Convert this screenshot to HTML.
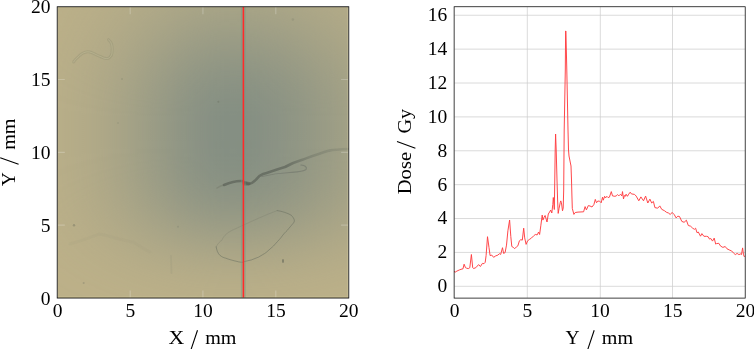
<!DOCTYPE html>
<html><head><meta charset="utf-8"><title>Film and dose profile</title>
<style>
html,body{margin:0;padding:0;background:#fff;width:754px;height:349px;overflow:hidden;}
svg{position:absolute;left:0;top:0;display:block;}
text{font-family:"Liberation Serif",serif;fill:#000;}
</style></head>
<body>
<svg width="754" height="349" viewBox="0 0 754 349">
<defs>
<linearGradient id="lgx" gradientUnits="userSpaceOnUse" x1="57.3" y1="0" x2="348.6" y2="0">
<stop offset="0.000" stop-color="#fff" stop-opacity="0.092"/>
<stop offset="0.025" stop-color="#fff" stop-opacity="0.112"/>
<stop offset="0.050" stop-color="#fff" stop-opacity="0.135"/>
<stop offset="0.075" stop-color="#fff" stop-opacity="0.161"/>
<stop offset="0.100" stop-color="#fff" stop-opacity="0.191"/>
<stop offset="0.125" stop-color="#fff" stop-opacity="0.224"/>
<stop offset="0.150" stop-color="#fff" stop-opacity="0.262"/>
<stop offset="0.175" stop-color="#fff" stop-opacity="0.302"/>
<stop offset="0.200" stop-color="#fff" stop-opacity="0.347"/>
<stop offset="0.225" stop-color="#fff" stop-opacity="0.394"/>
<stop offset="0.250" stop-color="#fff" stop-opacity="0.444"/>
<stop offset="0.275" stop-color="#fff" stop-opacity="0.497"/>
<stop offset="0.300" stop-color="#fff" stop-opacity="0.551"/>
<stop offset="0.325" stop-color="#fff" stop-opacity="0.606"/>
<stop offset="0.350" stop-color="#fff" stop-opacity="0.661"/>
<stop offset="0.375" stop-color="#fff" stop-opacity="0.715"/>
<stop offset="0.400" stop-color="#fff" stop-opacity="0.768"/>
<stop offset="0.425" stop-color="#fff" stop-opacity="0.817"/>
<stop offset="0.450" stop-color="#fff" stop-opacity="0.862"/>
<stop offset="0.475" stop-color="#fff" stop-opacity="0.902"/>
<stop offset="0.500" stop-color="#fff" stop-opacity="0.936"/>
<stop offset="0.525" stop-color="#fff" stop-opacity="0.964"/>
<stop offset="0.550" stop-color="#fff" stop-opacity="0.984"/>
<stop offset="0.575" stop-color="#fff" stop-opacity="0.996"/>
<stop offset="0.600" stop-color="#fff" stop-opacity="1.000"/>
<stop offset="0.625" stop-color="#fff" stop-opacity="0.997"/>
<stop offset="0.650" stop-color="#fff" stop-opacity="0.989"/>
<stop offset="0.675" stop-color="#fff" stop-opacity="0.975"/>
<stop offset="0.700" stop-color="#fff" stop-opacity="0.957"/>
<stop offset="0.725" stop-color="#fff" stop-opacity="0.933"/>
<stop offset="0.750" stop-color="#fff" stop-opacity="0.905"/>
<stop offset="0.775" stop-color="#fff" stop-opacity="0.873"/>
<stop offset="0.800" stop-color="#fff" stop-opacity="0.838"/>
<stop offset="0.825" stop-color="#fff" stop-opacity="0.799"/>
<stop offset="0.850" stop-color="#fff" stop-opacity="0.758"/>
<stop offset="0.875" stop-color="#fff" stop-opacity="0.716"/>
<stop offset="0.900" stop-color="#fff" stop-opacity="0.671"/>
<stop offset="0.925" stop-color="#fff" stop-opacity="0.627"/>
<stop offset="0.950" stop-color="#fff" stop-opacity="0.582"/>
<stop offset="0.975" stop-color="#fff" stop-opacity="0.537"/>
<stop offset="1.000" stop-color="#fff" stop-opacity="0.493"/>
</linearGradient>
<linearGradient id="lgy" gradientUnits="userSpaceOnUse" x1="0" y1="6.7" x2="0" y2="298.0">
<stop offset="0.000" stop-color="#fff" stop-opacity="0.397"/>
<stop offset="0.025" stop-color="#fff" stop-opacity="0.443"/>
<stop offset="0.050" stop-color="#fff" stop-opacity="0.491"/>
<stop offset="0.075" stop-color="#fff" stop-opacity="0.541"/>
<stop offset="0.100" stop-color="#fff" stop-opacity="0.591"/>
<stop offset="0.125" stop-color="#fff" stop-opacity="0.642"/>
<stop offset="0.150" stop-color="#fff" stop-opacity="0.692"/>
<stop offset="0.175" stop-color="#fff" stop-opacity="0.741"/>
<stop offset="0.200" stop-color="#fff" stop-opacity="0.788"/>
<stop offset="0.225" stop-color="#fff" stop-opacity="0.832"/>
<stop offset="0.250" stop-color="#fff" stop-opacity="0.872"/>
<stop offset="0.275" stop-color="#fff" stop-opacity="0.908"/>
<stop offset="0.300" stop-color="#fff" stop-opacity="0.939"/>
<stop offset="0.325" stop-color="#fff" stop-opacity="0.964"/>
<stop offset="0.350" stop-color="#fff" stop-opacity="0.983"/>
<stop offset="0.375" stop-color="#fff" stop-opacity="0.995"/>
<stop offset="0.400" stop-color="#fff" stop-opacity="1.000"/>
<stop offset="0.425" stop-color="#fff" stop-opacity="1.000"/>
<stop offset="0.450" stop-color="#fff" stop-opacity="0.999"/>
<stop offset="0.475" stop-color="#fff" stop-opacity="0.997"/>
<stop offset="0.500" stop-color="#fff" stop-opacity="0.992"/>
<stop offset="0.525" stop-color="#fff" stop-opacity="0.983"/>
<stop offset="0.550" stop-color="#fff" stop-opacity="0.969"/>
<stop offset="0.575" stop-color="#fff" stop-opacity="0.948"/>
<stop offset="0.600" stop-color="#fff" stop-opacity="0.921"/>
<stop offset="0.625" stop-color="#fff" stop-opacity="0.886"/>
<stop offset="0.650" stop-color="#fff" stop-opacity="0.844"/>
<stop offset="0.675" stop-color="#fff" stop-opacity="0.793"/>
<stop offset="0.700" stop-color="#fff" stop-opacity="0.735"/>
<stop offset="0.725" stop-color="#fff" stop-opacity="0.671"/>
<stop offset="0.750" stop-color="#fff" stop-opacity="0.602"/>
<stop offset="0.775" stop-color="#fff" stop-opacity="0.530"/>
<stop offset="0.800" stop-color="#fff" stop-opacity="0.458"/>
<stop offset="0.825" stop-color="#fff" stop-opacity="0.387"/>
<stop offset="0.850" stop-color="#fff" stop-opacity="0.319"/>
<stop offset="0.875" stop-color="#fff" stop-opacity="0.257"/>
<stop offset="0.900" stop-color="#fff" stop-opacity="0.201"/>
<stop offset="0.925" stop-color="#fff" stop-opacity="0.153"/>
<stop offset="0.950" stop-color="#fff" stop-opacity="0.113"/>
<stop offset="0.975" stop-color="#fff" stop-opacity="0.081"/>
<stop offset="1.000" stop-color="#fff" stop-opacity="0.056"/>
</linearGradient>
<mask id="mx" maskUnits="userSpaceOnUse" x="57.3" y="6.7" width="291.3" height="291.3"><rect x="57.3" y="6.7" width="291.3" height="291.3" fill="url(#lgx)"/></mask>
<mask id="my" maskUnits="userSpaceOnUse" x="57.3" y="6.7" width="291.3" height="291.3"><rect x="57.3" y="6.7" width="291.3" height="291.3" fill="url(#lgy)"/></mask>

<linearGradient id="crg" gradientUnits="userSpaceOnUse" x1="224" y1="0" x2="349" y2="0">
<stop offset="0" stop-color="#5e645a" stop-opacity="0.75"/>
<stop offset="0.5" stop-color="#5e645a" stop-opacity="0.72"/>
<stop offset="0.68" stop-color="#6a6f62" stop-opacity="0.45"/>
<stop offset="1" stop-color="#7b7f6e" stop-opacity="0.3"/>
</linearGradient>
<clipPath id="cl"><rect x="57.3" y="6.7" width="291.3" height="291.3"/></clipPath>
</defs>
<g clip-path="url(#cl)">
<rect x="57.3" y="6.7" width="291.3" height="291.3" fill="#bdb189"/>
<g mask="url(#my)"><rect x="57.3" y="6.7" width="291.3" height="291.3" fill="#858f83" mask="url(#mx)"/></g>
</g>
<g fill="none" stroke-linecap="round" stroke-linejoin="round" clip-path="url(#cl)">
<path d="M73.6 62 C75 60 76 58.5 77.6 57.5 C79 56 80.5 54.5 82.2 53.5 C84 52.5 86 51.8 87.9 51.8 C90 51.8 92.5 52.8 94.8 54 C97 55.2 99.5 56.2 101.6 57 C103 57.8 104.8 58.6 106.2 58.6 C107.8 58.6 109 58.2 109.6 57.5 C111 56 112 54.5 112 53 C112.3 50.5 112.3 48 112 46 C111.6 44 111 42.5 110.2 41.5 L108.5 39.7" stroke="#8c8a6e" stroke-width="3" opacity="0.3"/>
<path d="M73.6 62 C75 60 76 58.5 77.6 57.5 C79 56 80.5 54.5 82.2 53.5 C84 52.5 86 51.8 87.9 51.8 C90 51.8 92.5 52.8 94.8 54 C97 55.2 99.5 56.2 101.6 57 C103 57.8 104.8 58.6 106.2 58.6 C107.8 58.6 109 58.2 109.6 57.5 C111 56 112 54.5 112 53 C112.3 50.5 112.3 48 112 46 C111.6 44 111 42.5 110.2 41.5 L108.5 39.7" stroke="#cfc8a4" stroke-width="1" opacity="0.35"/>
<path d="M217 188 C220 186 222 185.5 224 185" stroke="#7a7f70" stroke-width="1.5" opacity="0.6"/>
<path d="M224 185 C230 182.5 236 180.5 242 181 C245 182 247 184 249 184 C252 183.5 254 181.5 256 179.6 C258 177 260 175 263 174 C268 172.5 275 170 285 167 C292 163 298 161 303 159.5 C310 157 318 154 329.4 150.6 C335 149.5 341 149.3 349 149" stroke="url(#crg)" stroke-width="2.6"/>

<ellipse cx="246.5" cy="183.5" rx="4" ry="2" fill="#575d52" opacity="0.6" stroke="none"/>
<path d="M262 176.5 C270 174.5 280 173 290 172.5 C297 172 303 171.8 306 169.5 C307.5 167 305 165.5 301 165" stroke="#70756a" stroke-width="1.2" opacity="0.6"/>
<path d="M216.2 246.9 C216.5 250 218 253.5 219.9 255.3 C222 257 224 257.8 225.5 258.1 C229 259.5 233 260.5 238.5 261.8 C241 262.3 242.5 262.6 243.7 261.8 C246 261 249 260.5 251.2 260 C254 259 256 258 258.6 257.1 C262 255 264 254 266.1 252.5 C269 250 271 248 273.5 246 C276 243 279 240 281 237.6 C283.5 234 285.5 232 287.5 230.1 C289 228 291 226 292.1 224.6 C293.5 223 294.5 221.5 294.4 220.8 C294.3 219 293 217 291.2 215.2 C289 214 287 213 284.7 212.4 C282 211.5 280 211 277.2 210.6" stroke="#6a6f60" stroke-width="0.9" opacity="0.6"/>
<path d="M216.2 246.9 C218 243 220 241.5 221.8 240.4 C224 235 228 232 235 229 C250 222 265 215 277.2 210.6" stroke="#767a6a" stroke-width="1" opacity="0.3"/>
<circle cx="74" cy="225.3" r="1.2" fill="#85826a" opacity="0.6" stroke="none"/>
<circle cx="83.7" cy="283" r="1" fill="#8a8870" opacity="0.5" stroke="none"/>
<circle cx="178" cy="226.7" r="1" fill="#8a8c78" opacity="0.5" stroke="none"/>
<circle cx="218.4" cy="101.7" r="1" fill="#6e7566" opacity="0.5" stroke="none"/>
<circle cx="292.9" cy="19.5" r="1.2" fill="#868a74" opacity="0.4" stroke="none"/>
<circle cx="122" cy="79" r="1" fill="#8e8e76" opacity="0.5" stroke="none"/>
<circle cx="118" cy="123" r="1" fill="#8e8e76" opacity="0.4" stroke="none"/>
<path d="M70 244 C80 241 90 238 99 234 C110 236 120 240 133 242 C140 246 145 250 150 252" stroke="#8f8d72" stroke-width="3" opacity="0.08"/>
<path d="M171 256 L171.5 273" stroke="#929278" stroke-width="1.8" opacity="0.2"/>
<ellipse cx="283" cy="261" rx="0.9" ry="2" fill="#6e6f5e" opacity="0.8" stroke="none"/>
</g>
<path d="M130.2 7.2V14.2 M130.2 290.5V297.5 M57.8 79.5H64.8 M341.1 79.5H348.1 M202.9 7.2V14.2 M202.9 290.5V297.5 M57.8 152.3H64.8 M341.1 152.3H348.1 M275.8 7.2V14.2 M275.8 290.5V297.5 M57.8 225.1H64.8 M341.1 225.1H348.1" stroke="#fff" stroke-opacity="0.22" stroke-width="1.2" fill="none"/>
<path d="M58 296.9H348 M347.6 8V297" stroke="#e8e0b0" stroke-opacity="0.25" stroke-width="1" fill="none"/>
<rect x="240.9" y="7.2" width="1.4" height="290.5" fill="#6a9c8a" opacity="0.45"/><rect x="244.4" y="7.2" width="1.3" height="290.5" fill="#6a9c8a" opacity="0.45"/>
<rect x="242.6" y="7" width="1.6" height="290.5" fill="#ff2a2a"/>
<rect x="57.2" y="6.75" width="291.6" height="291.3" fill="none" stroke="#000" stroke-width="0.8"/>
<path d="M527.3 7V297.8 M600.3 7V297.8 M672.5 7V297.8 M454.5 286.3H745 M454.5 252.42H745 M454.5 218.54H745 M454.5 184.66H745 M454.5 150.78H745 M454.5 116.9H745 M454.5 83.02H745 M454.5 49.14H745 M454.5 15.26H745" stroke="#cdcdcd" stroke-width="0.75" fill="none"/>
<polyline points="454,271.4 455.1,272.2 456.9,271.1 459.2,270 462,269 463,268.8 464.1,264.2 465.5,267.7 466.6,268.2 468.3,268.6 469.8,267.7 471.4,254.5 472.7,267.7 473.7,268.5 475.8,267.7 478.6,264.6 480.4,266.5 482.4,263.4 484,263.7 485.2,262.3 486.1,255.6 487.5,236.7 489,247.6 490.1,255.6 491.8,255.1 493.6,257.3 495.7,255.9 497.9,255.1 499.3,253.7 500.7,254.4 502.5,247.7 503.6,253.4 505.1,252.6 506.5,245.1 507.9,230.8 509.6,220 510.8,236.5 511.8,246.5 513.2,247.3 514.7,248.7 516.5,246.8 517.9,245.8 519.4,240.8 520.8,239.7 522.3,240.1 523.7,228.2 524.7,237.9 526.1,244.4 527.6,240.8 529.3,239.5 531.5,238 533.6,235.9 535.3,234.5 537.2,234.9 538.6,232 539.6,234.5 540.8,225.8 542.2,215.1 542.9,220.1 544.1,217.2 545.1,215.5 547,222 548.3,214 549.6,212 550.7,210 551.8,213 552.8,204.5 553.3,197.5 553.9,204 554.3,209.5 554.7,185 555.2,150 555.6,134 556.2,150 557,180 557.6,200 558.2,213.4 559,208.7 560.3,202.3 560.8,200.9 561.6,204 562.5,210.8 563.2,208 563.7,190 564.2,130 565.3,70 565.6,31 565.9,31 566.8,70 568,130 568.5,150 569,156 571,166 571.5,180 571.9,195 572.3,208.4 573.9,214.4 575.2,212.5 578,212.1 583.6,211.8 585.1,206.6 586.4,209.9 588.3,205.6 590,206 592,207 593.9,204.5 595.3,199.4 596.5,202.8 597.7,201.1 599.5,201.1 601.2,202.8 602.5,197.2 603.3,200.2 604.6,196.3 605.5,198 606.8,196.3 608.1,197.6 609.4,197.2 611.3,191.6 612.5,195.9 614.9,196.3 616.2,195.9 617.5,194.6 618.8,195.9 620.5,194.2 621.8,195.9 622.5,191.6 623.5,198.9 624.4,195.5 625.3,196.3 626.1,194.2 627.4,196.3 628.7,194.2 630.2,192.2 631.4,193.9 634.5,194.4 636.2,196.1 638.8,200.8 640.9,196.9 643.5,200.8 645.6,196.1 647.8,203 649.9,199.1 651.7,203 653.4,201.4 654.9,207.6 657.7,208.2 659.8,205.9 661.7,209.3 664.6,210.8 666.3,212.2 668.6,213.1 670.3,214.5 672.1,212.4 674.3,214.7 676.1,217.9 677.8,216.2 679.5,216.5 681.8,221.4 684.1,222.3 686.4,220.2 688.3,225.5 690.6,226.2 692.7,228.2 694.4,229.3 695.6,228.2 697,232.7 698.3,232 700.5,236.2 701.9,233.6 703.9,236.3 706.5,236.3 708.2,236.8 709.5,239.1 710.8,238.5 712.5,241.1 714.2,238.1 715.7,244.1 716.5,243.6 718.8,243.3 720.6,246.1 722.9,247.4 725.2,246.5 727,248.8 729.8,250.2 731.6,250.9 733.4,252.9 735.3,254.6 737.1,253.4 738.9,254.6 740.8,253.9 741.5,254.5 742.6,247.9 743.5,254.8 744.5,257" fill="none" stroke="#ff3d40" stroke-width="0.95" stroke-linejoin="round"/>
<rect x="454.13" y="6.75" width="291.07" height="291.35" fill="none" stroke="#000" stroke-width="0.75"/>
<g font-size="19.5" style="will-change:transform">
<text x="50.4" y="13.35" text-anchor="end">20</text>
<text x="50.4" y="86.15" text-anchor="end">15</text>
<text x="50.4" y="158.95" text-anchor="end">10</text>
<text x="50.4" y="231.75" text-anchor="end">5</text>
<text x="50.4" y="304.55" text-anchor="end">0</text>
<text x="57.5" y="316.9" text-anchor="middle">0</text>
<text x="130.3" y="316.9" text-anchor="middle">5</text>
<text x="203.1" y="316.9" text-anchor="middle">10</text>
<text x="275.9" y="316.9" text-anchor="middle">15</text>
<text x="348.7" y="316.9" text-anchor="middle">20</text>
<text x="447.3" y="292.2" text-anchor="end">0</text>
<text x="447.3" y="258.32" text-anchor="end">2</text>
<text x="447.3" y="224.44" text-anchor="end">4</text>
<text x="447.3" y="190.56" text-anchor="end">6</text>
<text x="447.3" y="156.68" text-anchor="end">8</text>
<text x="447.3" y="122.8" text-anchor="end">10</text>
<text x="447.3" y="88.92" text-anchor="end">12</text>
<text x="447.3" y="55.04" text-anchor="end">14</text>
<text x="447.3" y="21.16" text-anchor="end">16</text>
<text x="454.6" y="316.9" text-anchor="middle">0</text>
<text x="527.35" y="316.9" text-anchor="middle">5</text>
<text x="600.1" y="316.9" text-anchor="middle">10</text>
<text x="672.85" y="316.9" text-anchor="middle">15</text>
<text x="745.6" y="316.9" text-anchor="middle">20</text>
</g>
<g font-size="19.5" style="will-change:transform">
<text x="0" y="344.4" transform="translate(168.4 0) scale(1.12 1)">X</text>
<text x="0" y="344.4" transform="translate(205.2 0) scale(1.03 1) translate(0 0)">mm</text>
<text x="565.5" y="344.4">Y</text>
<text x="0" y="344.4" transform="translate(601.8 0) scale(1.03 1)">mm</text>
<text transform="translate(15 186.3) rotate(-90)">Y</text>
<text transform="translate(15 149.8) rotate(-90) scale(1.03 1)">mm</text>
<text transform="translate(411.4 194.3) rotate(-90) scale(1.06 1)">Dose</text>
<text transform="translate(411.4 133.6) rotate(-90) scale(1.04 1)">Gy</text>
</g>
<path d="M197.5 330.3L191 349.6 M594.2 330.3L587.7 349.6 M0.2 157.8L18.6 164.3 M397 141.6L415.4 148.3" stroke="#000" stroke-width="1.1" fill="none"/>
</svg>
</body></html>
